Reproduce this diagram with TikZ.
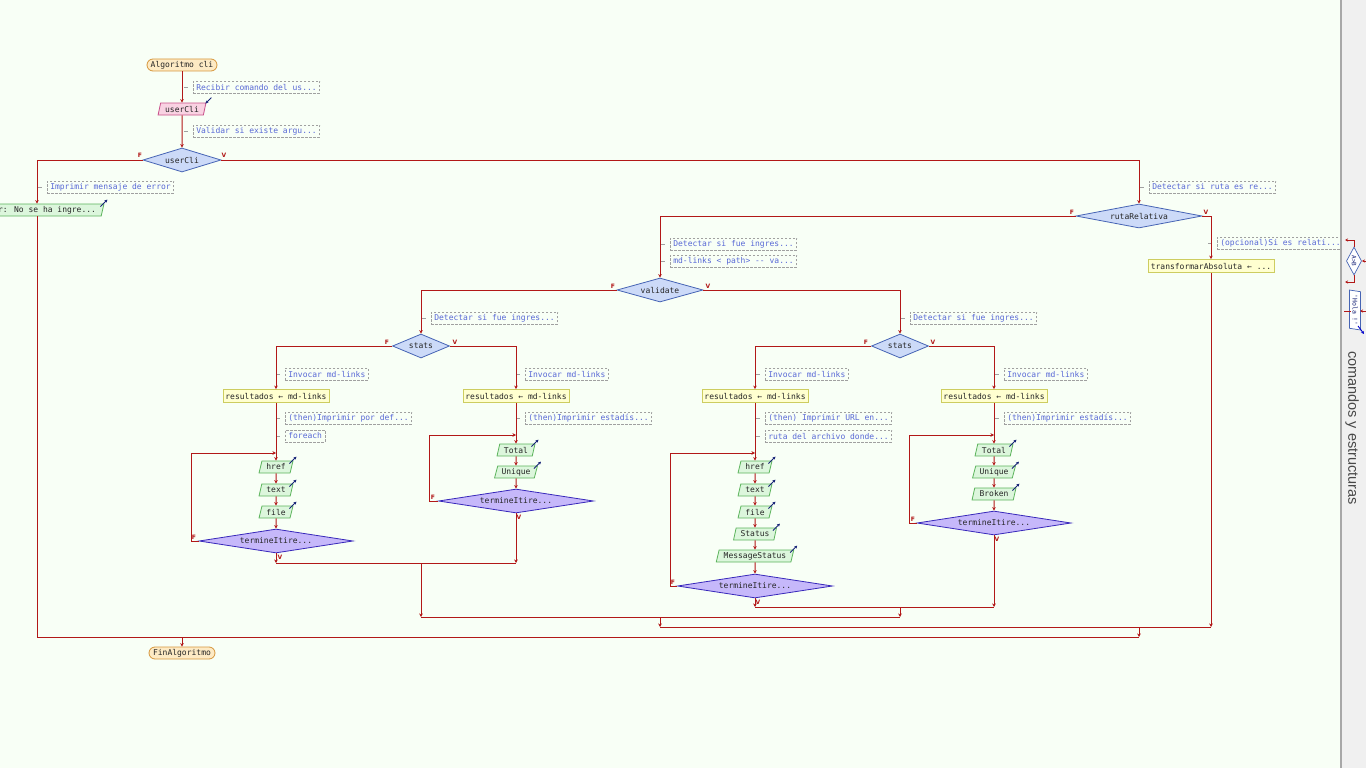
\documentclass[tikz,border=0pt]{standalone}
\usepackage{fontspec}
\usetikzlibrary{shapes.geometric,arrows.meta}
\newfontfamily\mono{DejaVu Sans Mono}[Ligatures=NoCommon]
\newfontfamily\panelf{Liberation Sans}
\newfontfamily\lblf{DejaVu Sans}
\definecolor{bg}{RGB}{248,255,246}
\definecolor{flow}{RGB}{178,24,24}
\definecolor{termfill}{RGB}{253,234,196}
\definecolor{termdraw}{RGB}{214,150,60}
\definecolor{decfill}{RGB}{204,218,248}
\definecolor{decdraw}{RGB}{70,100,180}
\definecolor{loopfill}{RGB}{198,184,250}
\definecolor{loopdraw}{RGB}{56,40,186}
\definecolor{outfill}{RGB}{220,246,220}
\definecolor{outdraw}{RGB}{92,180,92}
\definecolor{infill}{RGB}{249,210,226}
\definecolor{indraw}{RGB}{200,80,138}
\definecolor{procfill}{RGB}{255,255,208}
\definecolor{procdraw}{RGB}{205,205,96}
\definecolor{cmttext}{RGB}{88,104,214}
\definecolor{cmtdraw}{RGB}{160,160,160}
\definecolor{navy}{RGB}{24,36,120}
\definecolor{panelbg}{RGB}{240,240,240}
\definecolor{panelline}{RGB}{168,168,168}
\definecolor{paneltext}{RGB}{72,72,72}
\newcommand{\cmtnode}[4]{%
  \node[cmt] (#1) at (#2,#3) {#4};
  \draw[cdash] ([xshift=-9pt]#1.west) -- ([xshift=-5pt]#1.west);}
\begin{document}
\begin{tikzpicture}[x=1pt,y=-1pt,
  every node/.style={font=\mono\fontsize{8}{9}\selectfont, inner sep=0pt, text=black!85},
  flw/.style={draw=flow, line width=1pt},
  arr/.style={flw, -{Stealth[length=3.5pt,width=3.5pt]}},
  term/.style={draw=termdraw, fill=termfill, line width=0.8pt, rounded corners=6pt, minimum height=12pt},
  proc/.style={draw=procdraw, fill=procfill, line width=0.8pt, minimum height=13pt},
  outp/.style={trapezium, trapezium left angle=72, trapezium right angle=108, trapezium stretches=true,
    draw=outdraw, fill=outfill, line width=0.8pt, minimum height=12pt},
  inp/.style={outp, draw=indraw, fill=infill},
  dec/.style={diamond, aspect=4, draw=decdraw, fill=decfill, line width=0.8pt, minimum height=24pt},
  ldec/.style={dec, aspect=6, draw=loopdraw, fill=loopfill},
  cmt/.style={draw=cmtdraw, dashed, dash pattern=on 2.5pt off 1.5pt, line width=0.6pt, text=cmttext,
    anchor=west, inner xsep=3pt, minimum height=12pt},
  cdash/.style={draw=cmtdraw, line width=0.7pt},
  lbl/.style={font=\lblf\bfseries\fontsize{6}{6}\selectfont, text=flow},
  oarr/.style={draw=navy, line width=0.9pt, -{Stealth[length=3pt,width=3pt]}},
  parr/.style={draw=flow, line width=0.8pt, -{Stealth[length=3pt,width=3pt]}}
]
\useasboundingbox (0,0) rectangle (1366,768);
\fill[bg] (0,0) rectangle (1366,768);

% ---------------- nodes ----------------
\node[term, minimum width=70pt] (start) at (182,65) {Algoritmo cli};
\node[inp, minimum width=48pt] (ucin) at (182,109) {userCli};
\node[dec, minimum width=78pt] (ucd) at (182,160) {userCli};
\node[outp, minimum width=134pt] (err) at (37,210) {\makebox[118pt][r]{r: No se ha ingre...}};
\node[dec, minimum width=126pt] (rr) at (1139,216) {rutaRelativa};
\node[proc, minimum width=126pt] (tabs) at (1211,266) {transformarAbsoluta ← ...};
\node[dec, minimum width=86pt] (val) at (660,290) {validate};
\node[dec, minimum width=57pt] (s1) at (421,346) {stats};
\node[dec, minimum width=57pt] (s2) at (900,346) {stats};
\node[proc, minimum width=106pt] (r1) at (276,396) {resultados ← md-links};
\node[proc, minimum width=106pt] (r2) at (516,396) {resultados ← md-links};
\node[proc, minimum width=106pt] (r3) at (755,396) {resultados ← md-links};
\node[proc, minimum width=106pt] (r4) at (994,396) {resultados ← md-links};

% loop 1
\coordinate (t1) at (276,453); \coordinate (lp1) at (191,453);
\node[outp, minimum width=34pt] (o11) at (276,467) {href};
\node[outp, minimum width=34pt] (o12) at (276,490) {text};
\node[outp, minimum width=34pt] (o13) at (276,512) {file};
\node[ldec, minimum width=154pt] (d1) at (276,541) {termineItire...};
% loop 2
\coordinate (t2) at (516,435); \coordinate (lp2) at (429,435);
\node[outp, minimum width=38pt] (o21) at (516,450) {Total};
\node[outp, minimum width=43pt] (o22) at (516,472) {Unique};
\node[ldec, minimum width=155pt] (d2) at (516,501) {termineItire...};
% loop 3
\coordinate (t3) at (755,453); \coordinate (lp3) at (670,453);
\node[outp, minimum width=34pt] (o31) at (755,467) {href};
\node[outp, minimum width=34pt] (o32) at (755,490) {text};
\node[outp, minimum width=34pt] (o33) at (755,512) {file};
\node[outp, minimum width=43pt] (o34) at (755,534) {Status};
\node[outp, minimum width=78pt] (o35) at (755,556) {MessageStatus};
\node[ldec, minimum width=155pt] (d3) at (755,586) {termineItire...};
% loop 4
\coordinate (t4) at (994,435); \coordinate (lp4) at (909,435);
\node[outp, minimum width=38pt] (o41) at (994,450) {Total};
\node[outp, minimum width=43pt] (o42) at (994,472) {Unique};
\node[outp, minimum width=44pt] (o43) at (994,494) {Broken};
\node[ldec, minimum width=154pt] (d4) at (994,523) {termineItire...};

\node[term, minimum width=66pt] (fin) at (182,653) {FinAlgoritmo};

% merge coordinates
\coordinate (j1L) at (276,563); \coordinate (j1R) at (516,563);
\coordinate (j1C) at (421,563); \coordinate (j1D) at (421,617);
\coordinate (j2L) at (755,607); \coordinate (j2R) at (994,607);
\coordinate (j2C) at (900,607); \coordinate (j2D) at (900,617);
\coordinate (j3C) at (660,617); \coordinate (j3D) at (660,627);
\coordinate (m1R) at (1211,627);
\coordinate (j4C) at (1139,627); \coordinate (j4D) at (1139,637);
\coordinate (m0L) at (37,637);
\coordinate (j5C) at (182,637);

% ---------------- comments ----------------
\cmtnode{c1}{193}{87}{Recibir comando del us...}
\cmtnode{c2}{193}{131}{Validar si existe argu...}
\cmtnode{c3}{47}{187}{Imprimir mensaje de error}
\cmtnode{c4}{1149}{187}{Detectar si ruta es re...}
\cmtnode{c5}{1217}{243}{(opcional)Si es relati...}
\cmtnode{c6}{670}{244}{Detectar si fue ingres...}
\cmtnode{c7}{670}{261}{md-links < path> -{}- va...}
\cmtnode{c8}{431}{318}{Detectar si fue ingres...}
\cmtnode{c9}{910}{318}{Detectar si fue ingres...}
\cmtnode{c10}{285}{374}{Invocar md-links }
\cmtnode{c11}{525}{374}{Invocar md-links }
\cmtnode{c12}{765}{374}{Invocar md-links }
\cmtnode{c13}{1004}{374}{Invocar md-links }
\cmtnode{c14}{285}{418}{(then)Imprimir por def...}
\cmtnode{c15}{285}{436}{foreach}
\cmtnode{c16}{525}{418}{(then)Imprimir estadís...}
\cmtnode{c17}{765}{418}{(then) Imprimir URL en...}
\cmtnode{c18}{765}{436}{ruta del archivo donde...}
\cmtnode{c19}{1004}{418}{(then)Imprimir estadís...}

% ---------------- connectors ----------------
\draw[arr] (start) -- (ucin);
\draw[arr] (ucin) -- (ucd);
\draw[arr] (ucd.west) -| (err.north);
\draw[flw] (err) -- (m0L);
\draw[arr] (ucd.east) -| (rr.north);
\draw[arr] (rr.east) -| (tabs.north);
\draw[arr] (tabs) -- (m1R);
\draw[arr] (rr.west) -| (val.north);
\draw[arr] (val.west) -| (s1.north);
\draw[arr] (val.east) -| (s2.north);
\draw[arr] (s1.west) -| (r1.north);
\draw[arr] (s1.east) -| (r2.north);
\draw[arr] (s2.west) -| (r3.north);
\draw[arr] (s2.east) -| (r4.north);
% loop 1
\draw[flw] (r1) -- (t1);
\draw[arr] (t1) -- (o11);
\draw[arr] (o11) -- (o12);
\draw[arr] (o12) -- (o13);
\draw[arr] (o13) -- (d1);
\draw[arr] (d1.west) -| (lp1) -- (t1);
% loop 2
\draw[flw] (r2) -- (t2);
\draw[arr] (t2) -- (o21);
\draw[arr] (o21) -- (o22);
\draw[arr] (o22) -- (d2);
\draw[arr] (d2.west) -| (lp2) -- (t2);
% loop 3
\draw[flw] (r3) -- (t3);
\draw[arr] (t3) -- (o31);
\draw[arr] (o31) -- (o32);
\draw[arr] (o32) -- (o33);
\draw[arr] (o33) -- (o34);
\draw[arr] (o34) -- (o35);
\draw[arr] (o35) -- (d3);
\draw[arr] (d3.west) -| (lp3) -- (t3);
% loop 4
\draw[flw] (r4) -- (t4);
\draw[arr] (t4) -- (o41);
\draw[arr] (o41) -- (o42);
\draw[arr] (o42) -- (o43);
\draw[arr] (o43) -- (d4);
\draw[arr] (d4.west) -| (lp4) -- (t4);
% merges
\draw[arr] (d1.south) -- (j1L);
\draw[arr] (d2.south) -- (j1R);
\draw[flw] (j1L) -- (j1R);
\draw[arr] (j1C) -- (j1D);
\draw[arr] (d3.south) -- (j2L);
\draw[arr] (d4.south) -- (j2R);
\draw[flw] (j2L) -- (j2R);
\draw[arr] (j2C) -- (j2D);
\draw[flw] (j1D) -- (j2D);
\draw[arr] (j3C) -- (j3D);
\draw[flw] (j3D) -- (m1R);
\draw[arr] (j4C) -- (j4D);
\draw[flw] (m0L) -- (j4D);
\draw[arr] (j5C) -- (fin);

% ---------------- F / V labels ----------------
\node[lbl] (lF0) at (140,155) {F};  \node[lbl] (lV0) at (224,155) {V};
\node[lbl] (lF1) at (1072,212) {F}; \node[lbl] (lV1) at (1206,212) {V};
\node[lbl] (lF2) at (613,286) {F};  \node[lbl] (lV2) at (708,286) {V};
\node[lbl] (lF3) at (387,342) {F};  \node[lbl] (lV3) at (455,342) {V};
\node[lbl] (lF4) at (866,342) {F};  \node[lbl] (lV4) at (933,342) {V};
\node[lbl] (lF5) at (194,537) {F};  \node[lbl] (lV5) at (280,557) {V};
\node[lbl] (lF6) at (433,497) {F};  \node[lbl] (lV6) at (519,517) {V};
\node[lbl] (lF7) at (673,582) {F};  \node[lbl] (lV7) at (758,602) {V};
\node[lbl] (lF8) at (913,519) {F};  \node[lbl] (lV8) at (997,539) {V};

% output / input marks
\foreach \n in {err,o11,o12,o13,o21,o22,o31,o32,o33,o34,o35,o41,o42,o43}
  \draw[oarr] ([shift={(-4pt,-3pt)}]\n.top right corner) -- ++(7pt,7pt);
\draw[oarr] ([shift={(5pt,5pt)}]ucin.top right corner) -- ++(-6pt,-6pt);

% ---------------- right panel ----------------
\fill[panelbg] (1342,0) rectangle (1366,768);
\draw[panelline, line width=2.5pt] (1341,0) -- (1341,768);
\node[diamond, aspect=1, rotate=-90, draw=decdraw, fill=white, line width=0.7pt,
  minimum width=28pt, minimum height=11pt, font=\mono\fontsize{6}{6}\selectfont, text=navy] (pdia) at (1354,261) {A>B};
\coordinate (pa1) at (1345,240); \coordinate (pa2) at (1345,282); \coordinate (pa3) at (1366,261);
\draw[parr] (pdia.west) |- (pa1);
\draw[parr] (pdia.east) |- (pa2);
\draw[parr] (pa3) -- (pdia.north);
\node[trapezium, trapezium left angle=74, trapezium right angle=106, trapezium stretches=true, rotate=-90,
  draw=decdraw, fill=white, line width=0.7pt, minimum width=40pt, minimum height=11pt,
  font=\mono\fontsize{6.5}{6.5}\selectfont, text=navy] (phola) at (1355,310) {'Hola !'};
\coordinate (pa4) at (1366,311); \coordinate (pa5) at (1360,311);
\coordinate (pa6) at (1344,311); \coordinate (pa7) at (1351,311);
\draw[parr] (pa4) -- (pa5);
\draw[parr, -] (pa6) -- (pa7);
\coordinate (pb1) at (1358,326); \coordinate (pb2) at (1364,334);
\draw[oarr, draw=blue!80!black] (pb1) -- (pb2);
\node[rotate=-90, font=\panelf\fontsize{14.5}{14.5}\selectfont, text=paneltext] (ptxt) at (1352,428) {comandos y estructuras};
\end{tikzpicture}
\end{document}
